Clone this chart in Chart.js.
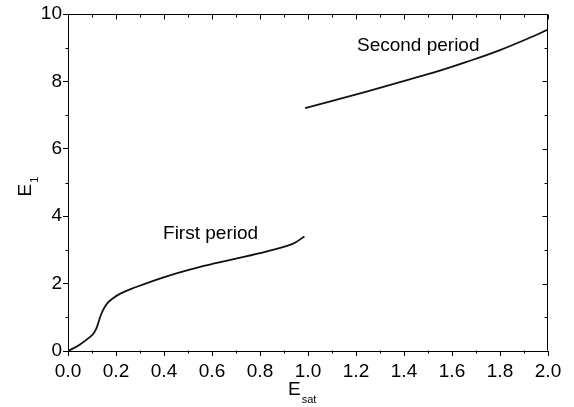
<!DOCTYPE html>
<html>
<head>
<meta charset="utf-8">
<script src="https://cdn.jsdelivr.net/npm/chart.js@4/dist/chart.umd.min.js"></script>
<style>
  html, body { margin: 0; padding: 0; background: #fff; }
</style>
</head>
<body>
<canvas id="esatChart" width="574" height="407"></canvas>
<script>
// first period curve (E_sat, E_1)
const firstX = [0, 0.047, 0.096, 0.11, 0.12, 0.13, 0.14, 0.152, 0.167, 0.186, 0.22, 0.269, 0.408, 0.547, 0.686, 0.825, 0.936, 0.985];
const firstY = [0, 0.18, 0.44, 0.56, 0.70, 0.92, 1.12, 1.29, 1.44, 1.56, 1.71, 1.86, 2.21, 2.49, 2.72, 2.95, 3.18, 3.40];
// second period curve
const secondX = [0.988, 1.105, 1.244, 1.383, 1.522, 1.661, 1.8, 1.939, 2.0];
const secondY = [7.21, 7.43, 7.70, 7.98, 8.26, 8.58, 8.93, 9.34, 9.54];

const xTicks = [0, 0.2, 0.4, 0.6, 0.8, 1.0, 1.2, 1.4, 1.6, 1.8, 2.0];
const yTicks = [0, 2, 4, 6, 8, 10];

const labels = [
  { text: 'First period', x: 0.396, y: 3.48 },
  { text: 'Second period', x: 1.204, y: 9.06 }
];

const FONT = '"Liberation Sans", Arial, sans-serif';

function toPoints(xs, ys) {
  return xs.map((v, i) => ({ x: v, y: ys[i] }));
}

// box, minor ticks, mirrored ticks, axis titles and text labels
const framePlugin = {
  id: 'frame',
  afterDraw(chart) {
    const { ctx, chartArea: a, scales: { x, y } } = chart;
    const L = Math.round(a.left) + 0.5, R = Math.round(a.right) - 0.5;
    const T = Math.round(a.top) + 0.5, B = Math.round(a.bottom) - 0.5;
    ctx.save();
    ctx.strokeStyle = '#000';
    ctx.lineWidth = 1;
    ctx.beginPath();
    ctx.moveTo(L, T); ctx.lineTo(R, T); ctx.lineTo(R, B);
    for (let i = 0; i <= 20; i++) {
      const v = i / 10;
      const px = Math.round(x.getPixelForValue(v)) + 0.5;
      const major = i % 2 === 0;
      ctx.moveTo(px, T); ctx.lineTo(px, T + (major ? 5 : 3));
      if (!major) { ctx.moveTo(px, B); ctx.lineTo(px, B + 3); }
    }
    for (let i = 0; i <= 10; i++) {
      const py = Math.round(y.getPixelForValue(i)) + 0.5;
      const major = i % 2 === 0;
      ctx.moveTo(R, py); ctx.lineTo(R - (major ? 5 : 3), py);
      if (!major) { ctx.moveTo(L, py); ctx.lineTo(L - 3, py); }
    }
    ctx.stroke();

    ctx.fillStyle = '#000';
    ctx.textBaseline = 'middle';
    ctx.textAlign = 'left';
    ctx.font = '19px ' + FONT;
    labels.forEach(l => {
      ctx.fillText(l.text, x.getPixelForValue(l.x), y.getPixelForValue(l.y));
    });

    // x title E_sat
    ctx.textBaseline = 'alphabetic';
    const cx = (a.left + a.right) / 2 - 20;
    ctx.font = '19px ' + FONT;
    ctx.fillText('E', cx, a.bottom + 44);
    const ew = ctx.measureText('E').width;
    ctx.font = '11px ' + FONT;
    ctx.fillText('sat', cx + ew + 1, a.bottom + 52);

    // y title E_1
    ctx.translate(a.left - 37, (a.top + a.bottom) / 2 + 14);
    ctx.rotate(-Math.PI / 2);
    ctx.font = '19px ' + FONT;
    ctx.fillText('E', 0, 0);
    ctx.font = '11px ' + FONT;
    ctx.fillText('1', ew + 1, 7);
    ctx.restore();
  }
};

const ctx = document.getElementById('esatChart').getContext('2d');
new Chart(ctx, {
  type: 'line',
  data: {
    datasets: [
      {
        label: 'First period',
        data: toPoints(firstX, firstY),
        borderColor: '#111',
        borderWidth: 1.8,
        pointRadius: 0,
        tension: 0.4,
        fill: false
      },
      {
        label: 'Second period',
        data: toPoints(secondX, secondY),
        borderColor: '#111',
        borderWidth: 1.8,
        pointRadius: 0,
        tension: 0.4,
        fill: false
      }
    ]
  },
  options: {
    responsive: false,
    animation: false,
    maintainAspectRatio: false,
    layout: { padding: { top: 14, right: 26, left: 0, bottom: 0 } },
    plugins: {
      legend: { display: false },
      tooltip: { enabled: false }
    },
    scales: {
      x: {
        type: 'linear',
        min: 0,
        max: 2,
        afterBuildTicks: s => { s.ticks = xTicks.map(v => ({ value: v })); },
        afterFit: s => { s.height = 56; },
        grid: { drawOnChartArea: false, tickLength: 5, color: '#000' },
        border: { display: true, color: '#000', width: 1 },
        ticks: {
          color: '#000',
          padding: 4,
          maxRotation: 0,
          font: { family: FONT, size: 19 },
          callback: v => v.toFixed(1)
        }
      },
      y: {
        min: 0,
        max: 10,
        afterBuildTicks: s => { s.ticks = yTicks.map(v => ({ value: v })); },
        afterFit: s => { s.width = 68; },
        grid: { drawOnChartArea: false, tickLength: 5, color: '#000' },
        border: { display: true, color: '#000', width: 1 },
        ticks: {
          color: '#000',
          padding: 1,
          font: { family: FONT, size: 19 },
          callback: v => String(v)
        }
      }
    }
  },
  plugins: [framePlugin]
});
</script>
</body>
</html>
